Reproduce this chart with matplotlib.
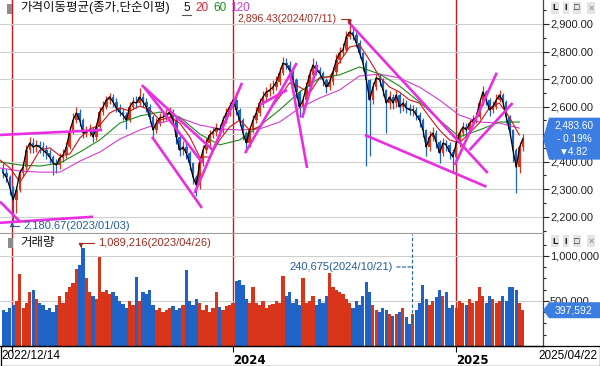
import numpy as np
import pandas as pd
import matplotlib
matplotlib.use("Agg")
import matplotlib.pyplot as plt
import matplotlib.dates as mdates
from matplotlib.patches import Rectangle, Polygon
from matplotlib.ticker import FixedLocator, FuncFormatter, MultipleLocator

plt.rcParams['font.family'] = ['Liberation Sans', 'Noto Sans CJK KR', 'DejaVu Sans']

# ---------------- data ----------------
first_date, last_date = '2022-12-19', '2025-04-22'
first_open = 2375
closes = [2359, 2344, 2308, 2261, 2297, 2359, 2380, 2442, 2468, 2453,
          2460, 2453, 2442, 2431, 2417, 2395, 2388, 2413, 2424, 2453,
          2508, 2551, 2577, 2551, 2504, 2508, 2515, 2490, 2526, 2580,
          2599, 2624, 2635, 2617, 2595, 2580, 2569, 2551, 2599, 2617,
          2613, 2635, 2617, 2599, 2562, 2515, 2540, 2559, 2562, 2569,
          2580, 2551, 2490, 2442, 2453, 2431, 2395, 2344, 2315, 2395,
          2442, 2468, 2497, 2508, 2522, 2515, 2551, 2577, 2599, 2624,
          2588, 2551, 2504, 2468, 2515, 2551, 2577, 2613, 2635, 2653,
          2660, 2671, 2689, 2722, 2758, 2751, 2733, 2697, 2653, 2599,
          2624, 2671, 2715, 2751, 2733, 2722, 2697, 2671, 2689, 2726,
          2769, 2795, 2806, 2853, 2871, 2860, 2831, 2795, 2758, 2697,
          2624, 2671, 2704, 2697, 2660, 2613, 2635, 2613, 2642, 2599,
          2613, 2595, 2588, 2588, 2569, 2551, 2515, 2453, 2490, 2504,
          2471, 2431, 2468, 2460, 2435, 2417, 2468, 2504, 2526, 2515,
          2540, 2551, 2562, 2613, 2653, 2624, 2588, 2599, 2624, 2642,
          2617, 2562, 2515, 2442, 2380, 2453, 2483.6]
highs = [2395, 2372, 2352, 2312, 2310, 2375, 2400, 2460, 2490, 2485,
         2480, 2475, 2470, 2460, 2445, 2425, 2410, 2430, 2445, 2470,
         2530, 2575, 2600, 2590, 2560, 2530, 2535, 2525, 2540, 2600,
         2620, 2640, 2650, 2645, 2630, 2610, 2595, 2580, 2615, 2635,
         2640, 2668, 2650, 2630, 2610, 2570, 2560, 2575, 2580, 2590,
         2600, 2590, 2560, 2500, 2475, 2470, 2440, 2400, 2350, 2410,
         2460, 2485, 2515, 2525, 2540, 2535, 2565, 2595, 2615, 2655,
         2635, 2595, 2560, 2510, 2530, 2570, 2600, 2630, 2655, 2670,
         2685, 2695, 2710, 2745, 2780, 2775, 2765, 2745, 2705, 2660,
         2640, 2690, 2735, 2775, 2765, 2745, 2730, 2705, 2710, 2745,
         2790, 2815, 2830, 2875, 2896, 2890, 2870, 2840, 2800, 2770,
         2700, 2690, 2720, 2720, 2705, 2665, 2655, 2645, 2660, 2650,
         2630, 2625, 2610, 2605, 2600, 2580, 2560, 2520, 2510, 2525,
         2515, 2480, 2485, 2480, 2470, 2445, 2480, 2520, 2545, 2540,
         2555, 2570, 2580, 2630, 2673, 2660, 2630, 2620, 2645, 2660,
         2650, 2625, 2570, 2520, 2450, 2470, 2500]
lows = [2340, 2325, 2280, 2181, 2215, 2290, 2345, 2370, 2430, 2430,
        2435, 2430, 2420, 2410, 2395, 2350, 2360, 2375, 2400, 2415,
        2445, 2500, 2540, 2530, 2485, 2488, 2495, 2470, 2480, 2518,
        2570, 2590, 2610, 2600, 2580, 2565, 2550, 2520, 2545, 2590,
        2595, 2605, 2600, 2580, 2540, 2490, 2505, 2530, 2545, 2550,
        2560, 2535, 2465, 2420, 2425, 2410, 2370, 2320, 2277, 2300,
        2385, 2430, 2455, 2485, 2495, 2495, 2505, 2540, 2565, 2590,
        2570, 2530, 2480, 2435, 2455, 2505, 2540, 2565, 2600, 2625,
        2640, 2645, 2660, 2680, 2715, 2735, 2715, 2680, 2630, 2562,
        2585, 2615, 2660, 2705, 2715, 2700, 2675, 2650, 2660, 2680,
        2715, 2760, 2785, 2800, 2845, 2840, 2815, 2775, 2730, 2386,
        2420, 2610, 2660, 2675, 2640, 2504, 2590, 2590, 2600, 2575,
        2585, 2575, 2570, 2565, 2550, 2525, 2490, 2420, 2440, 2475,
        2450, 2395, 2420, 2440, 2410, 2360, 2405, 2455, 2495, 2495,
        2505, 2530, 2540, 2555, 2605, 2605, 2565, 2575, 2590, 2615,
        2600, 2540, 2490, 2400, 2285, 2360, 2440]
volumes = [400, 380, 420, 450, 500, 800, 420, 480, 600, 620,
           520, 480, 450, 400, 420, 380, 460, 550, 480, 600,
           650, 700, 850, 900, 1089, 750, 600, 550, 520, 990,
           600, 620, 580, 600, 550, 500, 470, 420, 500, 450,
           770, 500, 600, 580, 620, 450, 400, 420, 380, 400,
           420, 440, 400, 420, 450, 840, 500, 460, 520, 480,
           400, 450, 380, 420, 600, 430, 400, 440, 450, 480,
           720, 730, 680, 520, 480, 650, 480, 450, 500, 420,
           450, 470, 500, 480, 780, 560, 600, 480, 520, 460,
           760, 480, 500, 560, 450, 520, 480, 560, 810, 650,
           620, 600, 580, 520, 480, 420, 500, 460, 560, 710,
           600, 450, 400, 380, 420, 400, 350, 330, 360, 380,
           420, 320, 241, 350, 400, 480, 680, 520, 450, 500,
           540, 620, 560, 600, 420, 450, 420, 500, 480, 450,
           520, 480, 500, 650, 560, 480, 560, 520, 480, 500,
           550, 500, 650, 660, 620, 480, 398]  # thousands of shares

ma_first, ma_last = '2022-12-14', '2025-04-16'
ma20 = [2406, 2377, 2326, 2381, 2442, 2450, 2421, 2428, 2486, 2519,
        2533, 2577, 2595, 2584, 2602, 2588, 2551, 2562, 2540, 2490,
        2417, 2417, 2479, 2526, 2551, 2515, 2526, 2588, 2635, 2686,
        2671, 2649, 2704, 2708, 2762, 2816, 2824, 2769, 2708, 2671,
        2653, 2624, 2613, 2562, 2515, 2479, 2468, 2504, 2540, 2595,
        2613, 2562, 2497]
ma60 = [2399, 2388, 2384, 2395, 2435, 2479, 2540, 2566, 2580, 2562,
        2500, 2461, 2479, 2530, 2588, 2653, 2704, 2715, 2744, 2718,
        2675, 2617, 2551, 2490, 2515, 2544, 2544]
ma120 = [2377, 2366, 2362, 2362, 2402, 2435, 2482, 2515, 2540, 2559,
         2533, 2519, 2515, 2519, 2544, 2595, 2631, 2660, 2711, 2718,
         2704, 2671, 2624, 2569, 2544, 2540, 2522]

# hand-drawn trend lines: (date1, price1, date2, price2)
trend_lines = [
    ('2022-12-14', 2497, '2023-05-31', 2515),
    ('2022-12-14', 2178, '2023-05-16', 2200),
    ('2022-12-14', 2255, '2023-01-16', 2182),
    ('2023-08-04', 2678, '2023-11-29', 2442),
    ('2023-08-09', 2668, '2023-11-12', 2395),
    ('2023-08-21', 2490, '2023-11-11', 2232),
    ('2023-10-30', 2286, '2024-01-16', 2686),
    ('2024-01-21', 2431, '2024-04-15', 2758),
    ('2024-02-14', 2606, '2024-03-30', 2660),
    ('2024-04-04', 2722, '2024-05-02', 2377),
    ('2024-04-24', 2559, '2024-05-19', 2751),
    ('2024-07-09', 2907, '2025-02-23', 2359),
    ('2024-08-05', 2497, '2025-02-21', 2309),
    ('2024-12-31', 2388, '2025-03-10', 2723),
    ('2025-01-24', 2442, '2025-04-05', 2613),
]
year_starts = ['2023-01-02', '2024-01-02', '2025-01-02']
hi_date, hi_val = '2024-07-11', 2896.43
lo_date, lo_val = '2023-01-03', 2180.67
vmax_date, vmax_val = '2023-04-26', 1089216
vmin_date, vmin_val = '2024-10-21', 240675
last_chg_pct, last_chg = -0.19, 4.82
last_vol = 397592

# ---------------- figure ----------------
W, H = 600, 366
fig = plt.figure(figsize=(W / 100, H / 100), dpi=100)


def box(x0, y0, x1, y1):
    return [x0 / W, 1 - y1 / H, (x1 - x0) / W, (y1 - y0) / H]


def ftext(x, y, s, **kw):
    kw.setdefault('va', 'center')
    return fig.text(x / W, 1 - y / H, s, **kw)


ax_p = fig.add_axes(box(0, 0, 543, 233))
ax_v = fig.add_axes(box(0, 234, 543, 346), sharex=ax_p)

RED, BLUE = '#d8351b', '#1f63c6'
dates = pd.date_range(first_date, last_date, periods=len(closes))
xs = mdates.date2num(dates)
step = xs[1] - xs[0]
c = np.array(closes, float)
o = np.r_[first_open, c[:-1]]
col = np.where(c >= o, RED, BLUE)

# candles
ax_p.vlines(xs, lows, highs, colors=col, lw=0.9, zorder=2)
ax_p.bar(xs, np.maximum(np.abs(c - o), 2), bottom=np.minimum(c, o), width=step * 0.72,
         color=col, lw=0, zorder=2)

# moving averages
ma_x = lambda arr: mdates.date2num(pd.date_range(ma_first, ma_last, periods=len(arr)))
ax_p.plot(ma_x(ma120), ma120, color='#d23cd2', lw=0.8, zorder=3)
ax_p.plot(ma_x(ma60), ma60, color='#1c8a1c', lw=0.8, zorder=3)
ax_p.plot(ma_x(ma20), ma20, color='#d41414', lw=0.8, zorder=3)
ax_p.plot(xs, closes, color='black', lw=0.9, zorder=4)

# trend lines
for d1, p1, d2, p2 in trend_lines:
    ax_p.plot(mdates.date2num(pd.to_datetime([d1, d2])), [p1, p2], color='#e92ee0',
              lw=1.9, solid_capstyle='butt', zorder=6)

# volume
vol = np.array(volumes) * 1000.0
vcol = col if len(volumes) == len(closes) else RED
vx = mdates.date2num(pd.date_range(first_date, last_date, periods=len(volumes)))
ax_v.bar(vx, vol, width=step * 0.92, color=vcol, lw=0, zorder=2)

# axes settings
x_left = mdates.date2num(pd.Timestamp('2022-12-14'))
x_right = mdates.date2num(pd.Timestamp('2025-05-25'))
ax_p.set_xlim(x_left, x_right)
ax_p.set_ylim(2141, 2987)
ax_v.set_ylim(0, 1244444)

for ax in (ax_p, ax_v):
    ax.yaxis.tick_right()
    ax.spines['top'].set_visible(False)
    ax.spines['left'].set_visible(False)
    ax.spines['right'].set_color('#444444')
    ax.spines['right'].set_linewidth(0.9)
    ax.tick_params(axis='y', which='major', direction='out', length=4, width=0.8,
                   pad=1, labelsize=8, colors='#222222')
    ax.tick_params(axis='y', which='minor', direction='out', length=2.5, width=0.8,
                   colors='#222222')
    ax.set_facecolor('white')
    for ys in year_starts:
        ax.axvline(mdates.date2num(pd.Timestamp(ys)), color='#c81a1a', lw=1.0, zorder=1)

ax_p.yaxis.set_major_locator(FixedLocator(range(2200, 2901, 100)))
ax_p.yaxis.set_minor_locator(MultipleLocator(50))
ax_p.yaxis.set_major_formatter(FuncFormatter(lambda v, p: f'{v:,.2f}'))
ax_p.grid(axis='y', which='major', color='#cfcfcf', lw=0.8, zorder=0)
ax_p.spines['bottom'].set_color('#9a9a9a')
ax_p.spines['bottom'].set_linewidth(0.8)
ax_p.tick_params(axis='x', which='both', bottom=False, labelbottom=False)

ax_v.yaxis.set_major_locator(FixedLocator([500000, 1000000]))
ax_v.yaxis.set_minor_locator(MultipleLocator(125000))
ax_v.yaxis.set_major_formatter(FuncFormatter(lambda v, p: f'{v:,.0f}'))
ax_v.grid(axis='y', which='major', color='#cfcfcf', lw=0.8, zorder=0)
ax_v.spines['bottom'].set_color('black')
ax_v.spines['bottom'].set_linewidth(0.9)
ax_v.set_xticks(mdates.date2num(pd.to_datetime(year_starts)))
ax_v.set_xticklabels(['', '2024', '2025'], fontsize=8.5, fontweight='bold',
                     ha='left', fontfamily=['DejaVu Sans'])
ax_v.tick_params(axis='x', direction='out', length=4, width=0.8, pad=2, colors='black')

# x strip labels and frame
ftext(1, 356, '2022/12/14', fontsize=8.5, ha='left')
ftext(597, 356, '2025/04/22', fontsize=8.5, ha='right')
fig.patches.append(Rectangle((0.5 / W, 1 - 365.5 / H), 599 / W, 19.5 / H, transform=fig.transFigure,
                             fill=False, ec='black', lw=0.9))

# title / legend
fig.patches.append(Rectangle((7 / W, 1 - 14 / H), 5 / W, 10 / H, transform=fig.transFigure,
                             fc='#8c8c8c', ec='none'))
ftext(20, 8, '가격이동평균(종가,단순이평)', fontsize=9, ha='left', color='#111111')
ftext(183, 8, '5', fontsize=8.5, ha='left', color='#111111')
fig.add_artist(plt.Line2D([182 / W, 191 / W], [1 - 14.5 / H, 1 - 14.5 / H], color='#555555', lw=0.8))
ftext(195, 8, '20', fontsize=8.5, ha='left', color='#e0202c')
ftext(213, 8, '60', fontsize=8.5, ha='left', color='#208a20')
ftext(230, 8, '120', fontsize=8.5, ha='left', color='#d03cd0')

fig.patches.append(Rectangle((8 / W, 1 - 248 / H), 5 / W, 10 / H, transform=fig.transFigure,
                             fc='#8c8c8c', ec='none'))
ftext(20, 243, '거래량', fontsize=9, ha='left', color='#111111')

# panel buttons
for yb in (8, 241):
    for xb, s, cc in ((555, 'L', '#111'), (566, 'I', '#111'), (577, '□', '#111'), (591, '×', '#9a9a9a')):
        ftext(xb, yb, s, fontsize=6.5, ha='center', color=cc, fontweight='bold',
              bbox=dict(boxstyle='square,pad=0.15', fc='#e4e4e4', ec='none'))

# annotations
ANN_R, ANN_B = '#a32a1e', '#245d9c'
hx = mdates.date2num(pd.Timestamp(hi_date))
ax_p.annotate(f'{hi_val:,.2f}({hi_date.replace("-", "/")})', xy=(hx, hi_val),
              xytext=(-13, 6), textcoords='offset pixels', ha='right', va='center',
              fontsize=7.5, color=ANN_R, annotation_clip=False, zorder=8,
              arrowprops=dict(arrowstyle='-|>,head_length=0.3,head_width=0.15', color=ANN_R, lw=0.8,
                              connectionstyle='angle,angleA=0,angleB=90,rad=0',
                              shrinkA=1, shrinkB=0))
lx = mdates.date2num(pd.Timestamp(lo_date))
ax_p.annotate(f'{lo_val:,.2f}({lo_date.replace("-", "/")})', xy=(lx, lo_val),
              xytext=(11, -4), textcoords='offset pixels', ha='left', va='center',
              fontsize=8, color=ANN_B, annotation_clip=False, zorder=8,
              arrowprops=dict(arrowstyle='-|>,head_length=0.3,head_width=0.15', color=ANN_B, lw=0.8,
                              connectionstyle='angle,angleA=0,angleB=90,rad=0',
                              shrinkA=1, shrinkB=0))
vmx = mdates.date2num(pd.Timestamp(vmax_date))
ax_v.annotate(f'{vmax_val:,.0f}({vmax_date.replace("-", "/")})', xy=(vmx, vmax_val),
              xytext=(17, 5), textcoords='offset pixels', ha='left', va='center',
              fontsize=8, color=ANN_R, annotation_clip=False, zorder=8,
              arrowprops=dict(arrowstyle='-|>,head_length=0.3,head_width=0.15', color=ANN_R, lw=0.8,
                              connectionstyle='angle,angleA=0,angleB=90,rad=0',
                              shrinkA=1, shrinkB=0))
vnx = mdates.date2num(pd.Timestamp(vmin_date))
ytxt = 878000
ax_v.plot([vnx, vnx], [vmin_val, 1244444], color=ANN_B, lw=0.8, ls=(0, (3, 2)), zorder=7)
ax_v.annotate(f'{vmin_val:,.0f}({vmin_date.replace("-", "/")})', xy=(vnx, ytxt),
              xytext=(-19, 0), textcoords='offset pixels', ha='right', va='center',
              fontsize=8, color=ANN_B, zorder=8,
              arrowprops=dict(arrowstyle='-', color=ANN_B, lw=0.8, ls=(0, (3, 2)),
                              shrinkA=1, shrinkB=0))

# last value tags on the right axis
fig.canvas.draw()
renderer = fig.canvas.get_renderer()


def tag(ax, yval, lines, fs, gap):
    ypix = ax.transData.transform((xs[-1], yval))[1]
    n = len(lines)
    hh = gap * n / 2 + 1.5
    pts = [(543, ypix), (549, ypix + hh), (600, ypix + hh), (600, ypix - hh), (549, ypix - hh)]
    fig.patches.append(Polygon([(px / W, py / H) for px, py in pts], closed=True,
                               transform=fig.transFigure, fc='#3b7de0', ec='none', zorder=10))
    for i, s in enumerate(lines):
        yy = ypix + (n - 1) * gap / 2 - i * gap
        fig.text(574 / W, yy / H, s, ha='center', va='center', fontsize=fs, color='white', zorder=11)
    # tick labels that sit fully under the tag are hidden, as in the original
    for lab in ax.get_yticklabels():
        bb = lab.get_window_extent(renderer)
        if bb.y0 > ypix - hh - 1 and bb.y1 < ypix + hh + 1:
            lab.set_visible(False)


tag(ax_p, closes[-1], [f'{closes[-1]:,.2f}', f'{last_chg_pct:.2f}%'.replace('-', '- '),
                      f'▼{last_chg:.2f}'], 7.2, 13)
tag(ax_v, last_vol, [f'{last_vol:,}'], 7.5, 13)

fig.savefig('out.png', dpi=100)
